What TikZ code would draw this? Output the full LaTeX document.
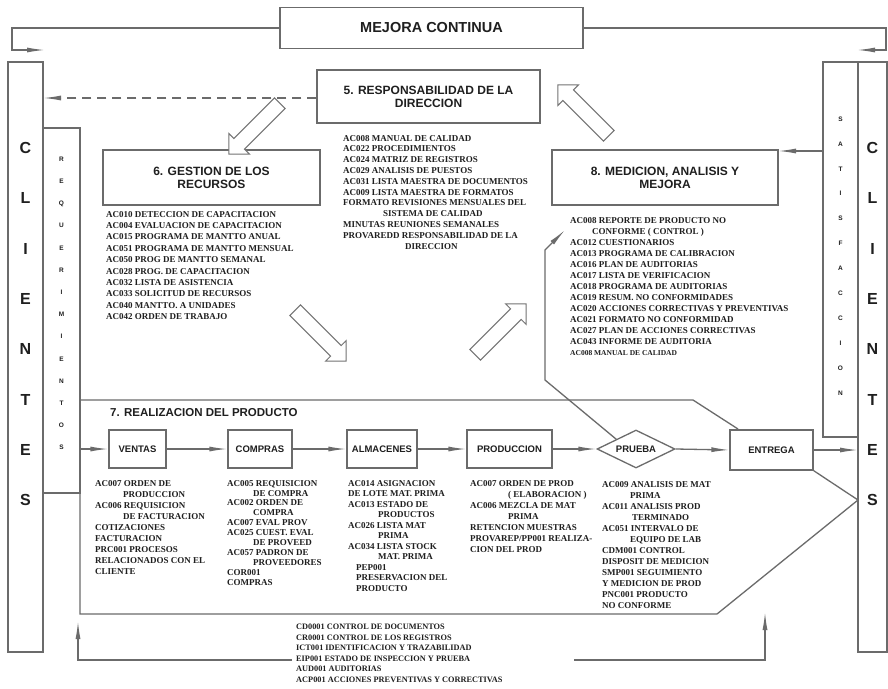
\documentclass[tikz,border=0pt]{standalone}
\usepackage{fontspec}
\setmainfont{Liberation Serif}
\setsansfont{Liberation Sans}
\usetikzlibrary{arrows.meta,shapes.geometric,shapes.arrows}

\begin{document}
\begin{tikzpicture}[x=1pt,y=-1pt,
  line/.style={draw=black!58, line width=1.3pt},
  arr/.style={line, -{Latex[length=18pt,width=5pt]}},
  frame/.style={draw=black!58, line width=1.3pt, fill=white, inner sep=0pt},
  title/.style={font=\sffamily\bfseries\fontsize{12}{13}\selectfont, text=black!88, align=center},
  proc/.style={frame, minimum height=38pt, font=\sffamily\bfseries\fontsize{9.5}{10}\selectfont, text=black!88},
  lst/.style={font=\rmfamily\bfseries\fontsize{9}{11}\selectfont, text=black!88, align=left, inner sep=0pt, anchor=north west},
  bigletter/.style={font=\sffamily\bfseries\fontsize{16}{16}\selectfont, text=black!88, inner sep=0pt},
  smallletter/.style={font=\sffamily\bfseries\fontsize{6.5}{7}\selectfont, text=black!88, inner sep=0pt},
  bigarrow/.style={single arrow, draw=black!55, line width=1pt, fill=white, inner sep=7pt,
    minimum height=72pt, single arrow head extend=7pt}
]
\useasboundingbox (0,0) rectangle (888,688);
\fill[white] (0,0) rectangle (888,688);

% ---------- side columns ----------
\node[frame, minimum width=35pt, minimum height=590pt] (clientesL) at (25.5,357) {};
\node[frame, minimum width=37pt, minimum height=365pt] (req) at (61.5,310.5) {};
\node[frame, minimum width=35pt, minimum height=375pt] (satisf) at (840.5,249.5) {};
\node[frame, minimum width=29pt, minimum height=590pt] (clientesR) at (872.5,357) {};

\foreach \ch [count=\i from 0] in {C,L,I,E,N,T,E,S} {
  \node[bigletter] (cl\i) at (25.5,148+50.3*\i) {\ch};
  \node[bigletter] (cr\i) at (872.5,148+50.3*\i) {\ch};
}
\foreach \ch [count=\i from 0] in {R,E,Q,U,E,R,I,M,I,E,N,T,O,S}
  \node[smallletter] (rq\i) at (61.5,159+22.2*\i) {\ch};
\foreach \ch [count=\i from 0] in {S,A,T,I,S,F,A,C,C,I,O,N}
  \node[smallletter] (sf\i) at (840.5,119+24.9*\i) {\ch};

% ---------- top: continuous improvement ----------
\node[frame, minimum width=303pt, minimum height=41pt,
      font=\sffamily\bfseries\fontsize{14.5}{15}\selectfont, text=black!88] (mejora) at (431.5,28) {MEJORA CONTINUA};
\coordinate (mjL) at (45,50);
\coordinate (mjR) at (857,50);
\draw[arr] (mejora.west) -- (12,28) -- (12,50) -- (mjL);
\draw[arr] (mejora.east) -- (886,28) -- (886,50) -- (mjR);

% ---------- management blocks ----------
\node[frame, minimum width=223pt, minimum height=53pt, title] (resp) at (428.5,96.5)
  {5. RESPONSABILIDAD DE LA\\DIRECCION};
\node[frame, minimum width=217pt, minimum height=55pt, title] (gestion) at (211.5,177.5)
  {6. GESTION DE LOS\\RECURSOS};
\node[frame, minimum width=226pt, minimum height=55pt, title] (medicion) at (665,177.5)
  {8. MEDICION, ANALISIS Y\\MEJORA};

\coordinate (rsL) at (43,98);
\draw[arr, dash pattern=on 9pt off 6pt] (resp.west |- rsL) -- (rsL);
\coordinate (sfA) at (823,151);
\coordinate (mdA) at (778,151);
\draw[arr] (sfA) -- (mdA);

\node[lst, font=\rmfamily\bfseries\fontsize{9}{10.8}\selectfont] (resplist) at (343,135) {%
AC008 MANUAL DE CALIDAD\\
AC022 PROCEDIMIENTOS\\
AC024 MATRIZ DE REGISTROS\\
AC029 ANALISIS DE PUESTOS\\
AC031 LISTA MAESTRA DE DOCUMENTOS\\
AC009 LISTA MAESTRA DE FORMATOS\\
FORMATO REVISIONES MENSUALES DEL\\
\hspace*{40pt}SISTEMA DE CALIDAD\\
MINUTAS REUNIONES SEMANALES\\
PROVAREDD RESPONSABILIDAD DE LA\\
\hspace*{62pt}DIRECCION};

\node[lst, font=\rmfamily\bfseries\fontsize{9}{11.4}\selectfont] (gestlist) at (106,211) {%
AC010 DETECCION DE CAPACITACION\\
AC004 EVALUACION DE CAPACITACION\\
AC015 PROGRAMA DE MANTTO ANUAL\\
AC051 PROGRAMA DE MANTTO MENSUAL\\
AC050 PROG DE MANTTO SEMANAL\\
AC028 PROG. DE CAPACITACION\\
AC032 LISTA DE ASISTENCIA\\
AC033 SOLICITUD DE RECURSOS\\
AC040 MANTTO. A UNIDADES\\
AC042 ORDEN DE TRABAJO};

\node[lst, font=\rmfamily\bfseries\fontsize{9}{11}\selectfont] (medlist) at (570,217) {%
AC008 REPORTE DE PRODUCTO NO\\
\hspace*{22pt}CONFORME ( CONTROL )\\
AC012 CUESTIONARIOS\\
AC013 PROGRAMA DE CALIBRACION\\
AC016 PLAN DE AUDITORIAS\\
AC017 LISTA DE VERIFICACION\\
AC018 PROGRAMA DE AUDITORIAS\\
AC019 RESUM. NO CONFORMIDADES\\
AC020 ACCIONES CORRECTIVAS Y PREVENTIVAS\\
AC021 FORMATO NO CONFORMIDAD\\
AC027 PLAN DE ACCIONES CORRECTIVAS\\
AC043 INFORME DE AUDITORIA\\
{\fontsize{7.5}{11}\selectfont AC008 MANUAL DE CALIDAD}};

% hollow block arrows between the blocks
\node[bigarrow, rotate=225] (ba1) at (257,126) {};
\node[bigarrow, rotate=135] (ba2) at (586,113) {};
\node[bigarrow, rotate=-45] (ba3) at (318,333) {};
\node[bigarrow, rotate=45] (ba4) at (498,332) {};

% ---------- product realisation ----------
\draw[line] (80,400) -- (693,400) -- (738,429);
\draw[line] (80,400) -- (80,614) -- (717,614) -- (858,500);

\node[font=\sffamily\bfseries\fontsize{11.5}{12}\selectfont, text=black!88, anchor=west, inner sep=0pt]
  (realiz) at (110,413) {7. REALIZACION DEL PRODUCTO};

\node[proc, minimum width=57pt] (ventas) at (137.5,449) {VENTAS};
\node[proc, minimum width=64pt] (compras) at (260,449) {COMPRAS};
\node[proc, minimum width=70pt] (almacenes) at (382,449) {ALMACENES};
\node[proc, minimum width=85pt] (produccion) at (509.5,449) {PRODUCCION};
\node[diamond, aspect=2, draw=black!58, line width=1.3pt, fill=white, inner sep=0pt,
      minimum width=78pt, minimum height=38pt,
      font=\sffamily\bfseries\fontsize{9.5}{10}\selectfont, text=black!88] (prueba) at (636,449) {PRUEBA};
\node[proc, minimum width=83pt, minimum height=40pt] (entrega) at (771.5,450) {ENTREGA};

\coordinate (reqR) at (80,449);
\coordinate (cliR) at (858,450);
\draw[arr] (reqR) -- (ventas.west);
\draw[arr] (ventas.east) -- (compras.west);
\draw[arr] (compras.east) -- (almacenes.west);
\draw[arr] (almacenes.east) -- (produccion.west);
\draw[arr] (produccion.east) -- (prueba.west);
\draw[arr] (prueba.east) -- (entrega.west);
\draw[arr] (entrega.east) -- (cliR);
\coordinate (cliS) at (858,500);
\draw[line] (entrega.south east) -- (cliS);

% measurement feedback from the test
\coordinate (mdIn) at (565,230);
\draw[arr] (prueba.north west) -- (545,380) -- (545,250) -- (mdIn);

\node[lst, font=\rmfamily\bfseries\fontsize{9}{11.1}\selectfont] (ventlist) at (95,480) {%
AC007 ORDEN DE\\
\hspace*{28pt}PRODUCCION\\
AC006 REQUISICION\\
\hspace*{28pt}DE FACTURACION\\
COTIZACIONES\\
FACTURACION\\
PRC001 PROCESOS\\
RELACIONADOS CON EL\\
CLIENTE};

\node[lst, font=\rmfamily\bfseries\fontsize{9}{9.9}\selectfont] (complist) at (227,480) {%
AC005 REQUISICION\\
\hspace*{26pt}DE COMPRA\\
AC002 ORDEN DE\\
\hspace*{26pt}COMPRA\\
AC007 EVAL PROV\\
AC025 CUEST. EVAL\\
\hspace*{26pt}DE PROVEED\\
AC057 PADRON DE\\
\hspace*{26pt}PROVEEDORES\\
COR001\\
COMPRAS};

\node[lst, font=\rmfamily\bfseries\fontsize{9}{10.5}\selectfont] (almlist) at (348,480) {%
AC014 ASIGNACION\\
DE LOTE MAT. PRIMA\\
AC013 ESTADO DE\\
\hspace*{30pt}PRODUCTOS\\
AC026 LISTA MAT\\
\hspace*{30pt}PRIMA\\
AC034 LISTA STOCK\\
\hspace*{30pt}MAT. PRIMA\\
\hspace*{8pt}PEP001\\
\hspace*{8pt}PRESERVACION DEL\\
\hspace*{8pt}PRODUCTO};

\node[lst, font=\rmfamily\bfseries\fontsize{9}{11}\selectfont] (prodlist) at (470,480) {%
AC007 ORDEN DE PROD\\
\hspace*{38pt}( ELABORACION )\\
AC006 MEZCLA DE MAT\\
\hspace*{38pt}PRIMA\\
RETENCION MUESTRAS\\
PROVAREP/PP001 REALIZA-\\
CION DEL PROD};

\node[lst, font=\rmfamily\bfseries\fontsize{9}{11}\selectfont] (pruelist) at (602,481) {%
AC009 ANALISIS DE MAT\\
\hspace*{28pt}PRIMA\\
AC011 ANALISIS PROD\\
\hspace*{30pt}TERMINADO\\
AC051 INTERVALO DE\\
\hspace*{28pt}EQUIPO DE LAB\\
CDM001 CONTROL\\
DISPOSIT DE MEDICION\\
SMP001 SEGUIMIENTO\\
Y MEDICION DE PROD\\
PNC001 PRODUCTO\\
NO CONFORME};

% ---------- support procedures ----------
\node[lst, font=\rmfamily\bfseries\fontsize{8.3}{10.5}\selectfont] (soplist) at (296,624) {%
CD0001 CONTROL DE DOCUMENTOS\\
CR0001 CONTROL DE LOS REGISTROS\\
ICT001 IDENTIFICACION Y TRAZABILIDAD\\
EIP001 ESTADO DE INSPECCION Y PRUEBA\\
AUD001 AUDITORIAS\\
ACP001 ACCIONES PREVENTIVAS Y CORRECTIVAS};

\coordinate (spL) at (292,660);
\coordinate (spR) at (574,660);
\coordinate (upL) at (78,621);
\coordinate (upR) at (765,612);
\draw[arr] (spL) -- (78,660) -- (upL);
\draw[arr] (spR) -- (765,660) -- (upR);
\end{tikzpicture}
\end{document}
